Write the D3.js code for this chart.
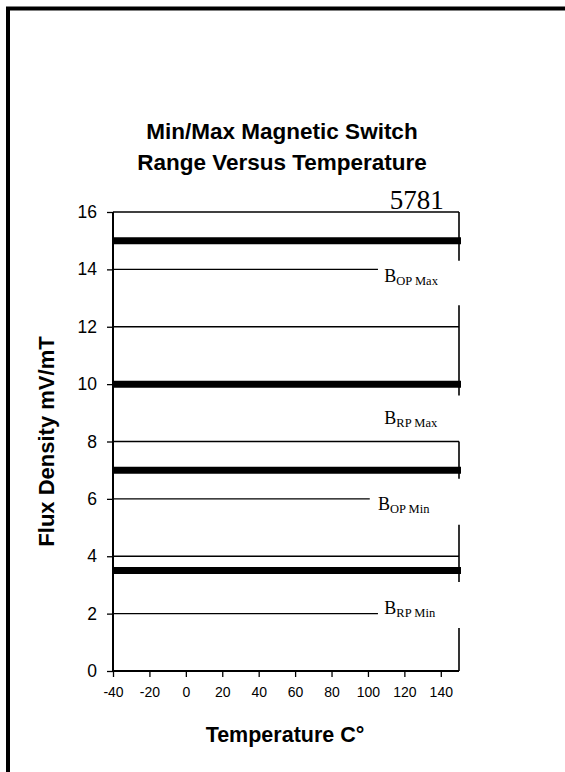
<html>
<head>
<script src="https://cdn.jsdelivr.net/npm/d3@7/dist/d3.min.js" charset="utf-8"></script>
<style>
  body { margin: 0; background: #fff; }
</style>
</head>
<body>
<svg id="chart"></svg>
<script>
    // axis ranges and ticks
    var tempRange = [-40, 150];
    var fluxRange = [0, 16];
    var xTicks = [-40, -20, 0, 20, 40, 60, 80, 100, 120, 140];
    var yTicks = [0, 2, 4, 6, 8, 10, 12, 14, 16];

    // thin grid lines and the temperature where each one stops
    var gridValues = [2, 4, 6, 8, 10, 12, 14, 16];
    var gridEnds   = [105.5, 150, 101, 150, 150, 150, 105.5, 150];

    // switch limits (thick lines)
    var limitNames  = ["RP Min", "OP Min", "RP Max", "OP Max"];
    var limitValues = [3.5, 7, 10, 15];

    // where the limit labels sit (temp, flux)
    var labelTemps = [109, 105.5, 109, 109];
    var labelFlux  = [2.0, 5.6, 8.6, 13.55];

    // pieces of the right hand border (flux from / to)
    var edgeFrom = [16, 12.75, 8, 5.1, 1.5];
    var edgeTo   = [14.3, 9.6, 6.7, 3.1, 0];

    var partNo = "5781";

    var W = 565, H = 772;
    var mLeft = 113, mTop = 212, pw = 346, ph = 459;

    var svg = d3.select("#chart").attr("width", W).attr("height", H);

    // outer frame, cut off at right and bottom like the scan
    svg.append("rect")
        .attr("x", 8).attr("y", 8.5)
        .attr("width", 700).attr("height", 900)
        .attr("fill", "none").attr("stroke", "#000").attr("stroke-width", 4);

    var x = d3.scaleLinear().domain(tempRange).range([mLeft, mLeft + pw]);
    var y = d3.scaleLinear().domain(fluxRange).range([mTop + ph, mTop]);

    // title
    var title = svg.append("text")
        .attr("text-anchor", "middle")
        .attr("font-family", "Liberation Sans, Arial, sans-serif")
        .attr("font-weight", "bold").attr("font-size", 22.5);
    title.append("tspan").attr("x", 282).attr("y", 139).text("Min/Max Magnetic Switch");
    title.append("tspan").attr("x", 282).attr("y", 170).text("Range Versus Temperature");

    // thin grid lines
    svg.selectAll("line.grid")
        .data(gridValues)
        .enter()
        .append("line")
        .attr("class", "grid")
        .attr("x1", x(tempRange[0]))
        .attr("x2", function(d, i){ return x(gridEnds[i]); })
        .attr("y1", function(d){ return y(d); })
        .attr("y2", function(d){ return y(d); })
        .attr("stroke", "#000").attr("stroke-width", 1.3);

    // right border pieces
    svg.selectAll("line.edge")
        .data(edgeFrom)
        .enter()
        .append("line")
        .attr("class", "edge")
        .attr("x1", x(tempRange[1])).attr("x2", x(tempRange[1]))
        .attr("y1", function(d){ return y(d); })
        .attr("y2", function(d, i){ return y(edgeTo[i]); })
        .attr("stroke", "#000").attr("stroke-width", 1.6);

    // thick limit lines
    svg.selectAll("line.limit")
        .data(limitValues)
        .enter()
        .append("line")
        .attr("class", "limit")
        .attr("x1", x(tempRange[0]))
        .attr("x2", x(tempRange[1]) + 2)
        .attr("y1", function(d){ return y(d); })
        .attr("y2", function(d){ return y(d); })
        .attr("stroke", "#000").attr("stroke-width", 7);

    // axes
    var plain = function(d){ return String(d); };
    var yAxis = d3.axisLeft(y).tickValues(yTicks).tickFormat(plain).tickSize(6).tickPadding(10);
    var xAxis = d3.axisBottom(x).tickValues(xTicks).tickFormat(plain).tickSize(6).tickPadding(10);

    var gy = svg.append("g").attr("transform", "translate(" + mLeft + ",0)").call(yAxis);
    gy.select(".domain").attr("d", "M0," + mTop + "V" + (mTop + ph)).attr("stroke-width", 2);
    gy.selectAll(".tick line").attr("stroke-width", 1.3);
    gy.selectAll(".tick text")
        .attr("font-family", "Liberation Sans, Arial, sans-serif")
        .attr("font-size", 17.5).attr("fill", "#000");

    var gx = svg.append("g").attr("transform", "translate(0," + (mTop + ph) + ")").call(xAxis);
    gx.select(".domain").attr("d", "M" + mLeft + ",0H" + (mLeft + pw)).attr("stroke-width", 2.2);
    gx.selectAll(".tick line").attr("stroke-width", 1.3);
    gx.selectAll(".tick text")
        .attr("font-family", "Liberation Sans, Arial, sans-serif")
        .attr("font-size", 14).attr("fill", "#000");

    // limit labels  B with subscript
    var lab = svg.selectAll("text.lim")
        .data(limitNames)
        .enter()
        .append("text")
        .attr("class", "lim")
        .attr("x", function(d, i){ return x(labelTemps[i]); })
        .attr("y", function(d, i){ return y(labelFlux[i]); })
        .attr("font-family", "Liberation Serif, Times New Roman, serif")
        .attr("font-size", 18);
    lab.append("tspan").text("B");
    lab.append("tspan").attr("font-size", 12.5).attr("dy", 3).text(function(d){ return d; });

    // part number
    svg.append("text")
        .attr("x", x(112)).attr("y", y(16) - 3)
        .attr("font-family", "Liberation Serif, Times New Roman, serif")
        .attr("font-size", 27)
        .text(partNo);

    // axis titles
    svg.append("text")
        .attr("transform", "translate(54," + (mTop + ph / 2) + ") rotate(-90)")
        .attr("text-anchor", "middle")
        .attr("font-family", "Liberation Sans, Arial, sans-serif")
        .attr("font-weight", "bold").attr("font-size", 22)
        .text("Flux Density mV/mT");

    svg.append("text")
        .attr("x", 285).attr("y", 742)
        .attr("text-anchor", "middle")
        .attr("font-family", "Liberation Sans, Arial, sans-serif")
        .attr("font-weight", "bold").attr("font-size", 21.5)
        .text("Temperature C°");
</script>
</body>
</html>
